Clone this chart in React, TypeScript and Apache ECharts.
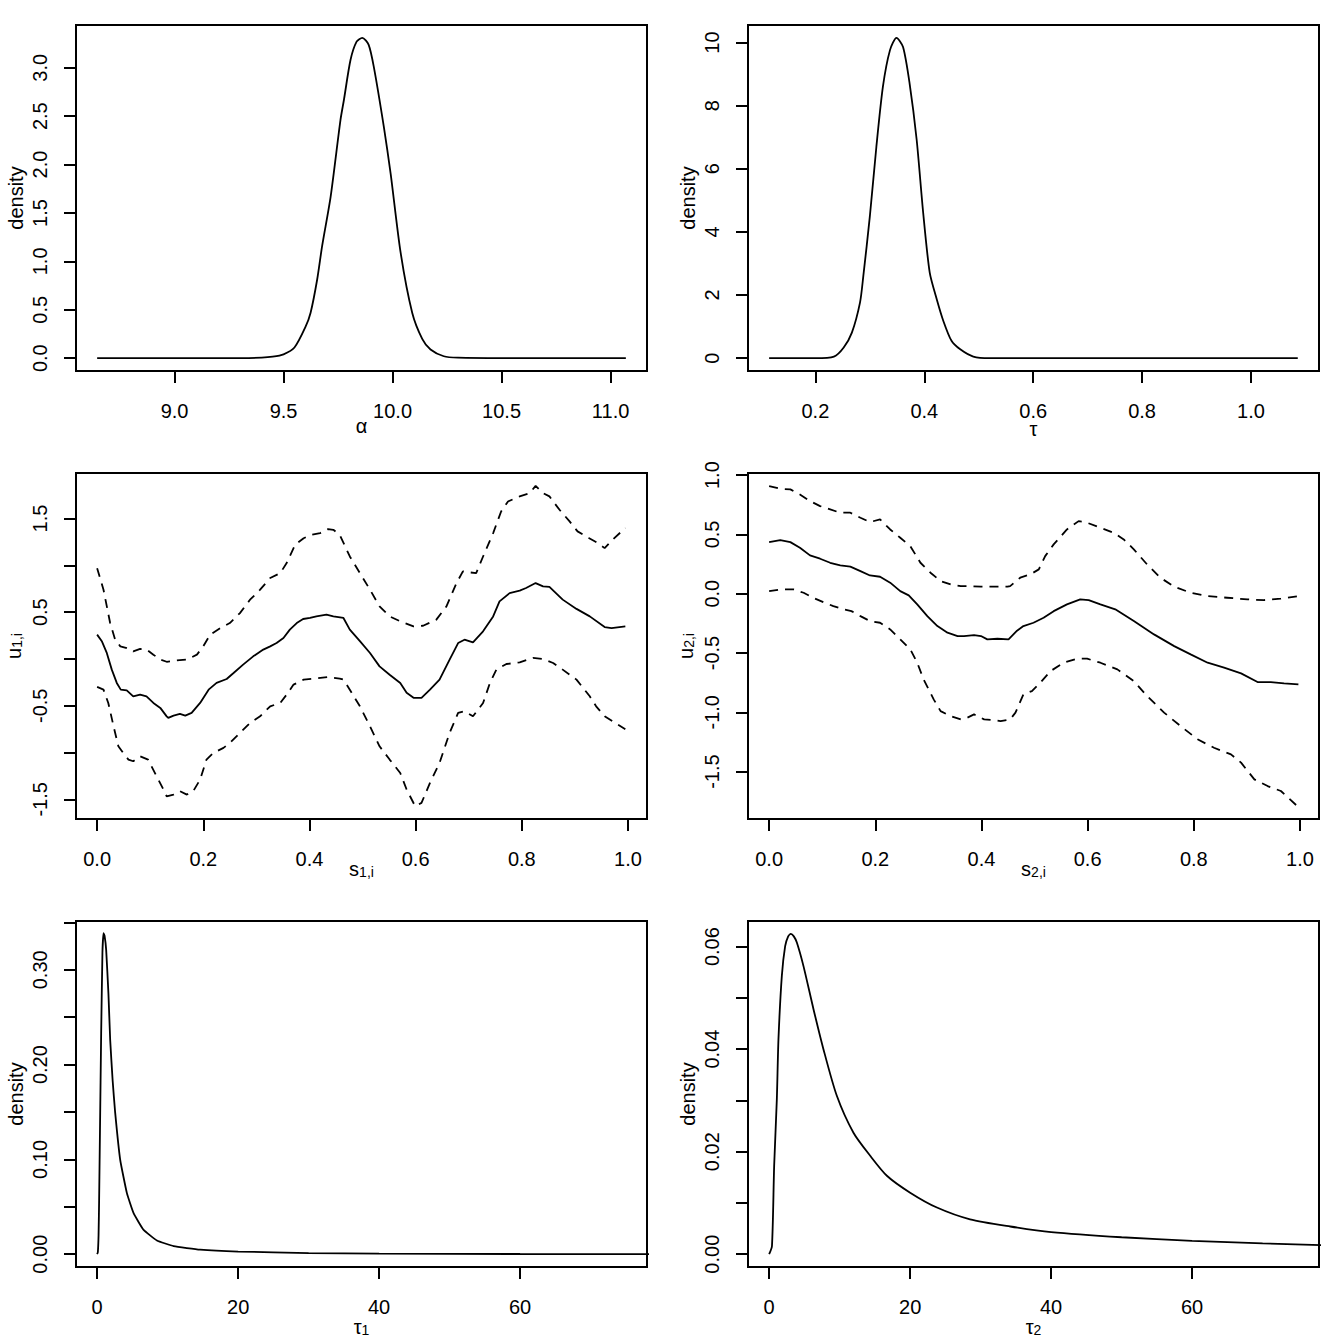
import React, { useEffect, useRef } from "react";
import * as echarts from "echarts";

// ---------- data ----------
const alphaDensity: number[][] = [
  [8.645, 0], [9.0, 0], [9.3, 0.001], [9.4, 0.005], [9.45, 0.015], [9.5, 0.04], [9.55, 0.11],
  [9.6, 0.32], [9.624, 0.47], [9.654, 0.81], [9.677, 1.16], [9.716, 1.67], [9.761, 2.46],
  [9.777, 2.67], [9.807, 3.08], [9.835, 3.27], [9.861, 3.31], [9.89, 3.24], [9.914, 3.01],
  [9.96, 2.39], [9.991, 1.91], [10.037, 1.09], [10.09, 0.47], [10.136, 0.2], [10.174, 0.09],
  [10.235, 0.02], [10.3, 0.005], [10.5, 0], [11.07, 0],
];

const tauDensity: number[][] = [
  [0.115, 0], [0.2, 0], [0.234, 0.05], [0.252, 0.34], [0.267, 0.81], [0.282, 1.77], [0.288, 2.6],
  [0.3, 4.49], [0.312, 6.7], [0.324, 8.6], [0.337, 9.76], [0.349, 10.15], [0.361, 9.86],
  [0.373, 8.71], [0.386, 6.92], [0.398, 4.6], [0.41, 2.71], [0.423, 1.86], [0.435, 1.18],
  [0.45, 0.55], [0.466, 0.28], [0.49, 0.05], [0.52, 0], [0.6, 0], [1.086, 0],
];

const u1Mean: number[][] = [
  [0, 0.26], [0.0088, 0.19], [0.0182, 0.064], [0.0276, -0.114], [0.037, -0.256], [0.0445, -0.328],
  [0.0558, -0.335], [0.068, -0.4], [0.081, -0.38], [0.093, -0.4], [0.106, -0.47], [0.119, -0.523],
  [0.131, -0.613], [0.134, -0.63], [0.144, -0.605], [0.156, -0.587], [0.166, -0.605], [0.178, -0.576],
  [0.194, -0.47], [0.21, -0.328], [0.225, -0.256], [0.244, -0.214], [0.257, -0.15], [0.275, -0.06],
  [0.294, 0.028], [0.313, 0.1], [0.326, 0.135], [0.338, 0.17], [0.351, 0.224], [0.363, 0.313],
  [0.376, 0.384], [0.388, 0.427], [0.401, 0.438], [0.413, 0.455], [0.432, 0.473], [0.445, 0.455],
  [0.464, 0.438], [0.476, 0.313], [0.495, 0.19], [0.514, 0.064], [0.532, -0.079], [0.551, -0.168],
  [0.571, -0.256], [0.583, -0.362], [0.596, -0.415], [0.611, -0.415], [0.627, -0.328], [0.645, -0.221],
  [0.664, -0.007], [0.68, 0.17], [0.692, 0.206], [0.708, 0.177], [0.727, 0.295], [0.746, 0.455],
  [0.758, 0.615], [0.777, 0.704], [0.796, 0.73], [0.808, 0.758], [0.826, 0.811], [0.84, 0.776],
  [0.852, 0.77], [0.877, 0.634], [0.903, 0.535], [0.928, 0.455], [0.956, 0.341], [0.969, 0.33],
  [0.995, 0.348],
];

const u1Upper: number[][] = [
  [0, 0.97], [0.012, 0.74], [0.0245, 0.384], [0.034, 0.206], [0.0437, 0.135], [0.056, 0.117],
  [0.068, 0.081], [0.081, 0.107], [0.093, 0.1], [0.106, 0.046], [0.119, -0.007], [0.131, -0.03],
  [0.15, -0.015], [0.169, -0.007], [0.188, 0.046], [0.2, 0.135], [0.213, 0.26], [0.232, 0.33],
  [0.25, 0.384], [0.269, 0.49], [0.288, 0.633], [0.307, 0.74], [0.326, 0.865], [0.345, 0.918],
  [0.357, 1.025], [0.373, 1.22], [0.389, 1.29], [0.404, 1.327], [0.42, 1.345], [0.435, 1.388],
  [0.445, 1.38], [0.457, 1.327], [0.476, 1.095], [0.495, 0.918], [0.514, 0.74], [0.532, 0.562],
  [0.551, 0.455], [0.571, 0.402], [0.596, 0.348], [0.614, 0.355], [0.639, 0.42], [0.658, 0.562],
  [0.677, 0.811], [0.689, 0.936], [0.702, 0.925], [0.714, 0.918], [0.727, 1.095], [0.746, 1.345],
  [0.761, 1.576], [0.774, 1.683], [0.796, 1.737], [0.815, 1.772], [0.826, 1.85], [0.84, 1.772],
  [0.852, 1.737], [0.871, 1.594], [0.89, 1.47], [0.905, 1.363], [0.927, 1.29], [0.943, 1.24],
  [0.956, 1.184], [0.971, 1.274], [0.995, 1.4],
];

const u1Lower: number[][] = [
  [0, -0.299], [0.012, -0.328], [0.021, -0.47], [0.031, -0.72], [0.04, -0.933], [0.049, -1.004],
  [0.059, -1.075], [0.068, -1.093], [0.081, -1.04], [0.096, -1.075], [0.112, -1.253], [0.125, -1.395],
  [0.131, -1.467], [0.144, -1.449], [0.156, -1.413], [0.169, -1.449], [0.181, -1.413], [0.194, -1.289],
  [0.206, -1.075], [0.219, -1.004], [0.238, -0.95], [0.25, -0.897], [0.269, -0.79], [0.288, -0.683],
  [0.307, -0.613], [0.326, -0.506], [0.345, -0.47], [0.357, -0.381], [0.37, -0.274], [0.389, -0.221],
  [0.414, -0.207], [0.435, -0.192], [0.457, -0.21], [0.464, -0.221], [0.476, -0.328], [0.495, -0.506],
  [0.514, -0.72], [0.532, -0.933], [0.551, -1.075], [0.571, -1.218], [0.583, -1.395], [0.599, -1.573],
  [0.611, -1.538], [0.627, -1.324], [0.645, -1.11], [0.664, -0.79], [0.68, -0.577], [0.692, -0.559],
  [0.708, -0.613], [0.727, -0.47], [0.74, -0.256], [0.752, -0.114], [0.771, -0.054], [0.796, -0.036],
  [0.821, 0.011], [0.84, 0], [0.859, -0.043], [0.877, -0.114], [0.903, -0.221], [0.928, -0.399],
  [0.94, -0.506], [0.956, -0.613], [0.971, -0.666], [0.995, -0.75],
];

const u2Mean: number[][] = [
  [0, 0.435], [0.021, 0.452], [0.04, 0.435], [0.058, 0.388], [0.077, 0.323], [0.096, 0.295],
  [0.115, 0.261], [0.134, 0.239], [0.153, 0.228], [0.172, 0.191], [0.19, 0.154], [0.209, 0.143],
  [0.228, 0.093], [0.247, 0.022], [0.263, -0.014], [0.279, -0.09], [0.298, -0.189], [0.317, -0.273],
  [0.336, -0.329], [0.355, -0.357], [0.367, -0.357], [0.386, -0.349], [0.399, -0.357], [0.411, -0.385],
  [0.43, -0.38], [0.451, -0.385], [0.467, -0.312], [0.479, -0.273], [0.498, -0.245], [0.517, -0.203],
  [0.536, -0.147], [0.561, -0.09], [0.586, -0.048], [0.602, -0.054], [0.624, -0.09], [0.652, -0.132],
  [0.687, -0.231], [0.725, -0.343], [0.763, -0.442], [0.794, -0.512], [0.826, -0.582], [0.857, -0.624],
  [0.889, -0.672], [0.92, -0.745], [0.945, -0.745], [0.97, -0.756], [0.997, -0.765],
];

const u2Upper: number[][] = [
  [0, 0.907], [0.021, 0.885], [0.04, 0.88], [0.058, 0.837], [0.077, 0.781], [0.096, 0.739],
  [0.115, 0.711], [0.134, 0.683], [0.153, 0.683], [0.172, 0.641], [0.19, 0.604], [0.209, 0.627],
  [0.228, 0.542], [0.247, 0.472], [0.266, 0.401], [0.285, 0.261], [0.304, 0.177], [0.323, 0.106],
  [0.342, 0.078], [0.361, 0.064], [0.38, 0.064], [0.399, 0.059], [0.417, 0.059], [0.449, 0.059],
  [0.454, 0.064], [0.473, 0.135], [0.492, 0.163], [0.508, 0.205], [0.52, 0.317], [0.536, 0.416],
  [0.561, 0.542], [0.583, 0.612], [0.596, 0.604], [0.624, 0.556], [0.649, 0.514], [0.668, 0.458],
  [0.687, 0.374], [0.712, 0.247], [0.737, 0.135], [0.763, 0.059], [0.794, 0.008], [0.826, -0.02],
  [0.863, -0.034], [0.901, -0.048], [0.932, -0.054], [0.964, -0.042], [0.997, -0.02],
];

const u2Lower: number[][] = [
  [0, 0.022], [0.021, 0.036], [0.046, 0.036], [0.065, 0.008], [0.083, -0.034], [0.102, -0.071],
  [0.121, -0.105], [0.14, -0.132], [0.155, -0.147], [0.172, -0.189], [0.19, -0.231], [0.209, -0.245],
  [0.228, -0.301], [0.247, -0.385], [0.266, -0.47], [0.279, -0.582], [0.291, -0.723], [0.31, -0.891],
  [0.323, -0.99], [0.342, -1.032], [0.361, -1.06], [0.373, -1.046], [0.386, -1.018], [0.405, -1.06],
  [0.424, -1.066], [0.436, -1.074], [0.454, -1.06], [0.464, -1.003], [0.479, -0.849], [0.495, -0.821],
  [0.511, -0.75], [0.53, -0.653], [0.555, -0.582], [0.58, -0.548], [0.599, -0.548], [0.624, -0.582],
  [0.656, -0.638], [0.687, -0.737], [0.712, -0.863], [0.744, -1.003], [0.775, -1.116], [0.807, -1.228],
  [0.838, -1.299], [0.87, -1.355], [0.889, -1.425], [0.914, -1.566], [0.939, -1.622], [0.964, -1.664],
  [0.996, -1.796],
];

const tau1Density: number[][] = [
  [0, 0], [0.1, 0.002], [0.2, 0.02], [0.28, 0.057], [0.4, 0.13], [0.57, 0.233], [0.75, 0.318],
  [0.9, 0.3387], [1.05, 0.336], [1.28, 0.321], [1.6, 0.275], [1.85, 0.226], [2.2, 0.183],
  [2.56, 0.149], [3.27, 0.0995], [4.22, 0.0644], [5.17, 0.0433], [6.59, 0.0256], [8.48, 0.0145],
  [10.85, 0.0085], [14.6, 0.0048], [20, 0.0028], [30, 0.0012], [40, 0.0006], [60, 0.0002], [80, 0.0001],
];

const tau2Density: number[][] = [
  [0, 0], [0.4, 0.0016], [0.71, 0.0172], [1.09, 0.0302], [1.32, 0.0419], [1.8, 0.0543],
  [2.27, 0.0601], [2.7, 0.062], [3.08, 0.0625], [3.5, 0.062], [3.93, 0.0608], [4.87, 0.0562],
  [6.29, 0.0478], [7.7, 0.04], [9.6, 0.0309], [11.96, 0.0237], [14.33, 0.0192], [16.7, 0.0153],
  [20, 0.012], [23.8, 0.0091], [28.5, 0.0068], [34.2, 0.0054], [40, 0.0043], [50, 0.0033],
  [60, 0.0026], [70, 0.0021], [80, 0.0017],
];

// ---------- ticks ----------
const alphaTicks = [9.0, 9.5, 10.0, 10.5, 11.0];
const alphaDensTicks = [0, 0.5, 1.0, 1.5, 2.0, 2.5, 3.0];
const tauTicks = [0.2, 0.4, 0.6, 0.8, 1.0];
const tauDensTicks = [0, 2, 4, 6, 8, 10];
const sTicks = [0, 0.2, 0.4, 0.6, 0.8, 1.0];
const u1Ticks = [-1.5, -1.0, -0.5, 0, 0.5, 1.0, 1.5];
const u1Labels = [-1.5, -0.5, 0.5, 1.5];
const u2Ticks = [-1.5, -1.0, -0.5, 0, 0.5, 1.0];
const precTicks = [0, 20, 40, 60];
const tau1DensTicks = [0, 0.05, 0.1, 0.15, 0.2, 0.25, 0.3, 0.35];
const tau1DensLabels = [0, 0.1, 0.2, 0.3];
const tau2DensTicks = [0, 0.01, 0.02, 0.03, 0.04, 0.05, 0.06];
const tau2DensLabels = [0, 0.02, 0.04, 0.06];

const FONT = "'Liberation Sans', Arial, Helvetica, sans-serif";

type Panel = {
  lines: { pts: number[][]; dashed: boolean }[];
  smooth: number;
  xMin: number; xMax: number; xTicks: number[]; xLabels: number[]; xDec: number;
  yMin: number; yMax: number; yTicks: number[]; yLabels: number[]; yDec: number;
  xName: string; yName: string; xGap: number; yGap: number;
};

const panels: Panel[] = [
  {
    lines: [{ pts: alphaDensity, dashed: false }], smooth: 0.25,
    xMin: 8.548, xMax: 11.167, xTicks: alphaTicks, xLabels: alphaTicks, xDec: 1,
    yMin: -0.1324, yMax: 3.442, yTicks: alphaDensTicks, yLabels: alphaDensTicks, yDec: 1,
    xName: "α", yName: "density", xGap: 47.8, yGap: 53.5,
  },
  {
    lines: [{ pts: tauDensity, dashed: false }], smooth: 0.25,
    xMin: 0.0762, xMax: 1.125, xTicks: tauTicks, xLabels: tauTicks, xDec: 1,
    yMin: -0.406, yMax: 10.556, yTicks: tauDensTicks, yLabels: tauDensTicks, yDec: 0,
    xName: "τ", yName: "density", xGap: 50.5, yGap: 53.5,
  },
  {
    lines: [
      { pts: u1Mean, dashed: false },
      { pts: u1Upper, dashed: true },
      { pts: u1Lower, dashed: true },
    ], smooth: 0,
    xMin: -0.0398, xMax: 1.0358, xTicks: sTicks, xLabels: sTicks, xDec: 1,
    yMin: -1.71, yMax: 1.987, yTicks: u1Ticks, yLabels: u1Labels, yDec: 1,
    xName: "{m|s}{s|1,i}", yName: "{m|u}{s|1,i}", xGap: 39.5, yGap: 52,
  },
  {
    lines: [
      { pts: u2Mean, dashed: false },
      { pts: u2Upper, dashed: true },
      { pts: u2Lower, dashed: true },
    ], smooth: 0,
    xMin: -0.0398, xMax: 1.0358, xTicks: sTicks, xLabels: sTicks, xDec: 1,
    yMin: -1.9, yMax: 1.018, yTicks: u2Ticks, yLabels: u2Ticks, yDec: 1,
    xName: "{m|s}{s|2,i}", yName: "{m|u}{s|2,i}", xGap: 39.5, yGap: 52,
  },
  {
    lines: [{ pts: tau1Density, dashed: false }], smooth: 0.12,
    xMin: -3, xMax: 78, xTicks: precTicks, xLabels: precTicks, xDec: 0,
    yMin: -0.0135, yMax: 0.3515, yTicks: tau1DensTicks, yLabels: tau1DensLabels, yDec: 2,
    xName: "{m|τ}{s|1}", yName: "density", xGap: 49.5, yGap: 53.5,
  },
  {
    lines: [{ pts: tau2Density, dashed: false }], smooth: 0.25,
    xMin: -3, xMax: 78, xTicks: precTicks, xLabels: precTicks, xDec: 0,
    yMin: -0.0025, yMax: 0.065, yTicks: tau2DensTicks, yLabels: tau2DensLabels, yDec: 2,
    xName: "{m|τ}{s|2}", yName: "density", xGap: 49.5, yGap: 53.5,
  },
];

const rich = {
  m: { fontSize: 20, lineHeight: 20, verticalAlign: "top", fontFamily: FONT, color: "#000" },
  s: { fontSize: 14, lineHeight: 14, verticalAlign: "bottom", padding: [10, 0, 0, 0], fontFamily: FONT, color: "#000" },
};

function buildOption() {
  const grid: any[] = [];
  const xAxis: any[] = [];
  const yAxis: any[] = [];
  const series: any[] = [];
  panels.forEach((p, i) => {
    const col = i % 2;
    const row = Math.floor(i / 2);
    grid.push({
      left: 76 + 672 * col,
      top: 25 + 448 * row,
      width: 571,
      height: 346,
      show: true,
      borderColor: "#000",
      borderWidth: 2,
      backgroundColor: "transparent",
      containLabel: false,
      outerBoundsMode: "none",
    });
    const tickStyle = { show: true, length: 12, inside: false, lineStyle: { color: "#000", width: 2 } };
    xAxis.push({
      type: "value",
      gridIndex: i,
      min: p.xMin,
      max: p.xMax,
      axisLine: { show: false, onZero: false },
      axisTick: { ...tickStyle, customValues: p.xTicks },
      axisLabel: {
        show: true, margin: 32.5, color: "#000", fontSize: 20, fontFamily: FONT, lineHeight: 14,
        customValues: p.xLabels, hideOverlap: false,
        formatter: (v: number) => v.toFixed(p.xDec),
      },
      splitLine: { show: false },
      name: p.xName,
      nameLocation: "middle",
      nameGap: p.xGap,
      nameMoveOverlap: false,
      nameTextStyle: { color: "#000", fontSize: 20, lineHeight: 14, fontFamily: FONT, rich },
    });
    yAxis.push({
      type: "value",
      gridIndex: i,
      min: p.yMin,
      max: p.yMax,
      axisLine: { show: false, onZero: false },
      axisTick: { ...tickStyle, customValues: p.yTicks },
      axisLabel: {
        show: true, margin: 29.5, rotate: 90, color: "#000", fontSize: 20, fontFamily: FONT, lineHeight: 14,
        customValues: p.yLabels, hideOverlap: false,
        formatter: (v: number) => v.toFixed(p.yDec),
      },
      splitLine: { show: false },
      name: p.yName,
      nameLocation: "middle",
      nameGap: p.yGap,
      nameMoveOverlap: false,
      nameTextStyle: { color: "#000", fontSize: 20, lineHeight: 14, fontFamily: FONT, rich },
    });
    p.lines.forEach((ln) => {
      series.push({
        type: "line",
        xAxisIndex: i,
        yAxisIndex: i,
        data: ln.pts,
        showSymbol: false,
        symbol: "none",
        smooth: p.smooth || false,
        clip: true,
        silent: true,
        lineStyle: { color: "#000", width: 1.8, type: ln.dashed ? [9, 7] : "solid" },
      });
    });
  });
  return {
    animation: false,
    backgroundColor: "#fff",
    textStyle: { fontFamily: FONT },
    grid,
    xAxis,
    yAxis,
    series,
  };
}

export default function App() {
  const ref = useRef<HTMLDivElement>(null);
  useEffect(() => {
    if (!ref.current) return;
    const chart = echarts.init(ref.current, null, { renderer: "svg" });
    chart.setOption(buildOption() as any);
    return () => chart.dispose();
  }, []);
  return (
    <div
      ref={ref}
      style={{ position: "absolute", left: 0, top: 0, width: 1344, height: 1344, background: "#fff" }}
    />
  );
}
